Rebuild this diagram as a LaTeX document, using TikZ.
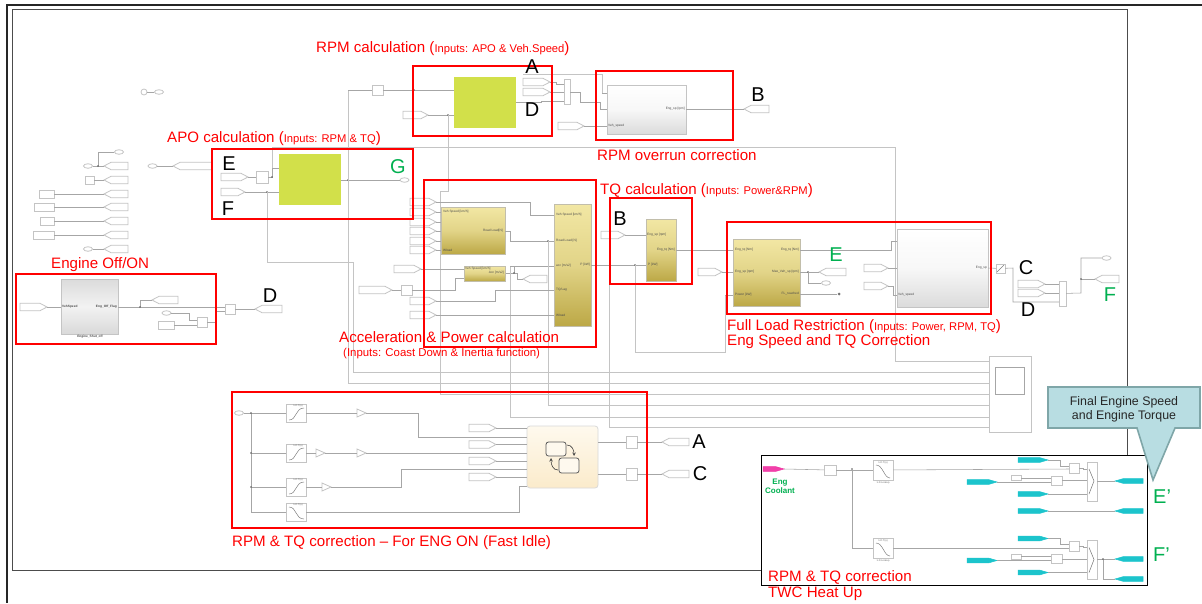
\documentclass[tikz,border=0pt]{standalone}
\usepackage{fontspec}
\setmainfont{Liberation Sans}
\usetikzlibrary{shapes.geometric}
\definecolor{wirec}{HTML}{A6A6A6}
\definecolor{edgec}{HTML}{C4C4C4}
\definecolor{greenblk}{HTML}{D2E04A}
\definecolor{goldtop}{HTML}{F2E7A4}
\definecolor{goldbot}{HTML}{BCA846}
\definecolor{labgreen}{HTML}{00B050}
\definecolor{cyanport}{HTML}{1CC4CC}
\definecolor{callfill}{HTML}{B8DDE2}
\definecolor{calledge}{HTML}{7FA6A8}
\definecolor{charttop}{HTML}{FEF9EE}
\definecolor{chartbot}{HTML}{FBEBCB}
\tikzset{
  wire/.style={draw=wirec,line width=.55pt},
  faint/.style={draw=edgec,line width=.9pt},
  portshape/.style={draw=edgec,line width=.8pt,fill=white},
  cyanshape/.style={draw=cyanport,line width=.5pt,fill=cyanport},
  magshape/.style={draw=magenta!80!white,line width=.5pt,fill=magenta!75!white},
  sbox/.style={draw=edgec,line width=.8pt,fill=white},
  goldb/.style={draw=edgec!80!goldbot,line width=.8pt,top color=goldtop,bottom color=goldbot,middle color=goldtop!70!goldbot},
  greyb/.style={draw=edgec,line width=.8pt,top color=white,bottom color=black!14,middle color=black!3},
  greyc/.style={draw=edgec,line width=.8pt,top color=black!14,bottom color=black!15,middle color=black!5},
  greenb/.style={fill=greenblk,draw=none},
  chartb/.style={rounded corners=3pt,draw=black!15,line width=.8pt,top color=charttop,bottom color=chartbot},
  redbox/.style={draw=red,line width=2pt},
  ovalb/.style={ellipse,draw=edgec,line width=.8pt,fill=white,minimum width=9pt,minimum height=4.5pt,inner sep=0pt},
  jdot/.style={circle,fill=black!65,inner sep=0pt,minimum size=1.8pt},
  redt/.style={text=red,anchor=west,inner sep=0pt,font=\fontsize{15.1}{17}\selectfont},
  redsm/.style={text=red,anchor=west,inner sep=0pt,font=\fontsize{11.4}{13}\selectfont},
  bigblk/.style={text=black,inner sep=0pt,font=\fontsize{20}{22}\selectfont},
  biggrn/.style={text=labgreen,inner sep=0pt,font=\fontsize{20}{22}\selectfont},
  pinl/.style={inner sep=0pt,text=black!70,anchor=west,font=\fontsize{3.2}{4}\selectfont},
  pinr/.style={inner sep=0pt,text=black!70,anchor=east,font=\fontsize{3.2}{4}\selectfont},
}
% small bracketed note with large parentheses, as the reference prints it
\newcommand\inpt[1]{({\fontsize{11.2}{13}\selectfont #1})}
% box: style, name, x1, y1, x2, y2
\newcommand\bx[6]{\node[#1,inner sep=0pt,outer sep=0pt,minimum width={((#5)-(#3))*1pt},minimum height={((#6)-(#4))*1pt}] (#2) at ({((#3)+(#5))/2},{((#4)+(#6))/2}) {};}
% port, tip to the right: style, name, x1, xtip, y
\newcommand\pr[5]{\draw[#1] (#3,#5-3.7) -- (#4-7,#5-3.7) -- (#4,#5) -- (#4-7,#5+3.7) -- (#3,#5+3.7) -- cycle; \coordinate (#2) at (#4,#5);}
% port, tip to the left: style, name, xtip, x2, y
\newcommand\pl[5]{\draw[#1] (#4,#5-3.7) -- (#3+7,#5-3.7) -- (#3,#5) -- (#3+7,#5+3.7) -- (#4,#5+3.7) -- cycle; \coordinate (#2) at (#3,#5);}
% slim cyan ports, same arguments
\newcommand\prc[5]{\draw[#1] (#3,#5-2.3) -- (#4-8,#5-2.3) -- (#4,#5) -- (#4-8,#5+2.3) -- (#3,#5+2.3) -- cycle; \coordinate (#2) at (#4,#5);}
\newcommand\plc[5]{\draw[#1] (#4,#5-2.3) -- (#3+8,#5-2.3) -- (#3,#5) -- (#3+8,#5+2.3) -- (#4,#5+2.3) -- cycle; \coordinate (#2) at (#3,#5);}
% gain triangle: name, x, y
\newcommand\tri[3]{\draw[portshape] (#2,#3-4) -- (#2+9,#3) -- (#2,#3+4) -- cycle; \coordinate (#1-in) at (#2,#3); \coordinate (#1-out) at (#2+9,#3);}
\newcommand\ovl[3]{\node[ovalb] (#1) at (#2,#3) {};}
\newcommand\jn[2]{\node[jdot] at (#1,#2) {};}
\begin{document}
\begin{tikzpicture}[x=1pt,y=-1pt]
\useasboundingbox (0,0) rectangle (1202,603);
\fill[white] (0,0) rectangle (1202,603);
% frames
\draw[black!85,line width=1.2pt] (1202,5) -- (7,5) -- (7,603);
\draw[black!70,line width=.9pt] (12,9.5) rectangle (1127,570);

% ------ blocks
\bx{greenb}{apoB}{279}{154}{341}{205}
\bx{greenb}{rpmB}{454}{77}{516}{128}
\bx{greyc}{engB}{61}{279}{118}{334}
\bx{greyb}{ovrB}{607}{85}{686}{134}
\bx{greyb}{finB}{897}{229}{988}{307}
\bx{goldb}{gA}{441}{207}{505}{254}
\bx{goldb}{gB}{464}{266}{505.5}{281}
\bx{goldb}{gC}{554}{204}{591}{326}
\bx{goldb}{gD}{646}{219}{676}{281}
\bx{goldb}{gE}{733}{239}{800}{306}
\bx{chartb}{chart}{527}{426}{598}{488}
\bx{sbox}{scope}{989}{356}{1031}{432}
\draw[draw=black!35,line width=1pt] (995,367) rectangle (1024,394);

% ------ left terminator group
\draw[draw=edgec,fill=white,line width=.8pt] (144,92) circle (3);
\ovl{o0}{159}{92}
\draw[wire] (147,92) -- (o0);
\pl{portshape}{t1}{104}{128}{166}\ovl{o1}{88}{166}\ovl{o2}{119}{152}
\draw[wire] (o1) -- (t1); \draw[wire] (98,166) -- (98,152) -- (o2); \jn{98}{166}
\pl{portshape}{t2}{104}{128}{180}\bx{sbox}{b2}{85}{176}{94}{184}\draw[wire] (b2) -- (t2);
\pl{portshape}{t3}{104}{128}{194}\bx{sbox}{b3}{39}{190}{54}{198}\draw[wire] (b3) -- (t3);
\pl{portshape}{t4}{104}{128}{207}\bx{sbox}{b4}{34}{203}{54}{211}\draw[wire] (b4) -- (t4);
\pl{portshape}{t5}{104}{128}{221}\bx{sbox}{b5}{40}{217}{54}{225}\draw[wire] (b5) -- (t5);
\pl{portshape}{t6}{104}{128}{235}\bx{sbox}{b6}{33}{231}{54}{239}\draw[wire] (b6) -- (t6);
\pl{portshape}{t7}{104}{128}{249}\ovl{o7}{88}{249}\draw[wire] (o7) -- (t7);

% ------ APO
\ovl{o8}{152.5}{166}\pl{portshape}{t8}{173}{212}{166}\draw[wire] (o8) -- (t8);
\pr{portshape}{pE}{221}{248}{177}\bx{sbox}{muxE}{256}{171}{268}{183}
\pr{portshape}{pF}{221}{245}{192}
\draw[wire] (pE) -- (muxE);
\draw[wire] (muxE) -- (272,177) -- (272,168) -- (apoB.west|-0,168);
\draw[wire] (pF) -- (apoB.west|-0,192);
\ovl{oG}{404.5}{180}
\draw[wire] (apoB.east|-0,180) -- (oG);
\jn{348}{180}\jn{267}{192}\jn{272}{177}
\draw[faint] (272,168) -- (272,147) -- (895,147) -- (895,361) -- (scope.west|-0,361);
\draw[faint] (267,192) -- (267,262) -- (353,262) -- (353,372) -- (scope.west|-0,372);
\draw[faint] (348,90) -- (348,383) -- (scope.west|-0,383);

% ------ Engine off
\pr{portshape}{pEng}{20}{47}{307}
\pl{portshape}{tEng1}{152}{178}{300}
\pl{portshape}{tD}{255}{282}{309}
\bx{sbox}{muxEng}{225}{304}{235}{314}
\ovl{oEng}{166.5}{313}\bx{sbox}{cEng}{158}{321}{174}{329}\bx{sbox}{prodEng}{197}{317}{207}{327}
\draw[wire] (pEng) -- (engB.west|-0,307);
\draw[wire] (engB.east|-0,307) -- (muxEng.west|-0,307);
\draw[wire] (140,307) -- (140,300) -- (tEng1);\jn{140}{307}
\draw[wire] (muxEng) -- (tD);
\draw[wire] (oEng) -- (189,313) -- (189,320) -- (prodEng.west|-0,320);
\draw[wire] (cEng) -- (prodEng.west|-0,325);
\draw[wire] (prodEng) -- (216,322) -- (216,311) -- (muxEng.west|-0,311);
\node[pinl,font=\bfseries\fontsize{3.2}{4}\selectfont] at (62,307) {VehSpeed};
\node[pinr,font=\bfseries\fontsize{3.2}{4}\selectfont] at (117,307) {Eng\_Off\_Flag};
\node[inner sep=0pt,font=\bfseries\fontsize{3.2}{4}\selectfont,text=black!70] at (90,337) {Engine\_Shut\_off};

% ------ RPM calc
\bx{sbox}{mux90}{372}{85}{383}{95}
\draw[wire] (348,90) -- (mux90);\draw[wire] (mux90) -- (rpmB.west|-0,90);\jn{414}{90}
\pr{portshape}{p115}{403}{428}{115}
\draw[wire] (p115) -- (rpmB.west|-0,115);\jn{448}{115}
\pr{portshape}{pA}{523}{550}{82}\pr{portshape}{pD}{523}{550}{92}
\bx{sbox}{mux1}{564}{79}{570}{104}
\draw[wire] (pA) -- (556,82) -- (556,84) -- (mux1.west|-0,84);
\draw[wire] (pD) -- (mux1.west|-0,92);
\draw[wire] (rpmB.east|-0,102) -- (541,102) -- (541,101) -- (mux1.west|-0,101);
\draw[wire] (mux1.east|-0,92) -- (580,92) -- (580,102) -- (600,102) -- (600,109) -- (ovrB.west|-0,109);
\draw[faint] (523,74) -- (602,74) -- (602,93);\draw[wire] (602,93) -- (ovrB.west|-0,93);
\pr{portshape}{p126}{558}{584}{126}
\draw[wire] (p126) -- (ovrB.west|-0,126);
\pl{portshape}{tB}{744}{769}{109}
\draw[wire] (ovrB.east|-0,109) -- (tB);

% ------ Accel & power
\draw[faint] (448,115) -- (448,191) -- (440,191) -- (440,394) -- (scope.west|-0,394);
\pr{portshape}{a1}{410}{436}{202}\pr{portshape}{a2}{410}{436}{212}\pr{portshape}{a3}{410}{436}{222}
\pr{portshape}{a4}{410}{436}{231}\pr{portshape}{a5}{410}{436}{241}\pr{portshape}{a6}{410}{436}{250}
\draw[wire] (a1) -- (530,202) -- (530,215) -- (gC.west|-0,215);
\draw[wire] (a2) -- (gA.west|-0,212);\draw[wire] (a3) -- (gA.west|-0,222);\draw[wire] (a4) -- (gA.west|-0,231);
\draw[wire] (a5) -- (gA.west|-0,241);\draw[wire] (a6) -- (gA.west|-0,250);
\draw[wire] (gA.east|-0,231) -- (510,231) -- (510,241) -- (gC.west|-0,241);\jn{548}{241}
\pr{portshape}{a7}{394}{421}{269}
\draw[wire] (a7) -- (gB.west|-0,269);
\pr{portshape}{a8}{359}{392}{290}\bx{sbox}{mux290}{401}{285}{412}{295}
\draw[wire] (a8) -- (mux290);
\draw[wire] (mux290) -- (455,290) -- (455,278) -- (gB.west|-0,278);
\draw[wire] (gB.east|-0,273) -- (514,273) -- (514,266) -- (gC.west|-0,266);
\pl{portshape}{a9}{523}{547}{279}
\draw[wire] (514,273) -- (517,273) -- (517,279) -- (a9);\jn{514}{273}
\draw[faint] (510,266) -- (510,417) -- (scope.west|-0,417);\draw[wire] (510,266) -- (514,266);
\draw[faint] (548,241) -- (548,405) -- (scope.west|-0,405);
\pr{portshape}{a10}{410}{436}{301}\pr{portshape}{a11}{410}{436}{315}
\draw[wire] (a10) -- (495,301) -- (495,290) -- (gC.west|-0,290);
\draw[wire] (a11) -- (gC.west|-0,315);
\draw[wire] (gC.east|-0,265) -- (gD.west|-0,265);\jn{635}{265}
\draw[faint] (609,265) -- (609,427) -- (scope.west|-0,427);
\draw[faint] (635,265) -- (635,352) -- (725,352) -- (725,295);
\draw[wire] (725,295) -- (gE.west|-0,295);

% ------ TQ and full load
\pr{portshape}{pB}{601}{625}{235}
\draw[wire] (pB) -- (gD.west|-0,235);
\draw[wire] (gD.east|-0,250) -- (gE.west|-0,250);
\pr{portshape}{p272}{698}{722}{272}
\draw[wire] (p272) -- (gE.west|-0,272);
\draw[wire] (gE.east|-0,250) -- (891,250) -- (891,241) -- (finB.west|-0,241);
\pl{portshape}{t272}{819}{846}{272}\ovl{o283}{826}{283}
\draw[wire] (gE.east|-0,272) -- (t272);\jn{808}{272}
\draw[wire] (808,272) -- (808,283) -- (o283);
\node[circle,fill=black!55,inner sep=0pt,minimum size=3pt] (term) at (839,294) {};
\draw[wire] (gE.east|-0,294) -- (term);
\pr{portshape}{f1}{864}{888}{268}\pr{portshape}{f2}{864}{888}{286}
\draw[wire] (f1) -- (finB.west|-0,268);
\draw[wire] (f2) -- (893,286) -- (893,295) -- (finB.west|-0,295);
\bx{sbox}{mux268}{996}{264}{1005}{273}
\draw[black!50,line width=.4pt] (997,272) -- (1004,265);
\draw[wire] (finB.east|-0,268) -- (mux268);
\pr{portshape}{pC}{1018}{1045}{284}\pr{portshape}{pD2}{1018}{1045}{293}
\bx{sbox}{mux2}{1059}{281}{1066}{306}
\draw[wire] (mux268) -- (1013,268) -- (1013,302) -- (mux2.west|-0,302);
\draw[wire] (pC) -- (mux2.west|-0,284);\draw[wire] (pD2) -- (mux2.west|-0,293);
\ovl{o258}{1106.5}{258}\pl{portshape}{tF}{1095}{1119}{279}
\draw[wire] (mux2) -- (1081,293) -- (1081,258) -- (o258);
\draw[wire] (1081,279) -- (tF);\jn{1081}{279}

% ------ Fast idle
\ovl{oIn}{239}{413}
\draw[wire] (oIn) -- (286,413);
\draw[wire] (251,413) -- (251,512) -- (286,512);
\draw[wire] (251,453) -- (286,453);\draw[wire] (251,487) -- (286,487);
\jn{251}{413}\jn{251}{453}\jn{251}{487}
\foreach \nm/\ya/\yb/\cv in {l1/404/422/1,l2/444/462/1,l3/478/496/1,l4/503/521/0}{
  \bx{sbox}{\nm}{286}{\ya}{306}{\yb}
  \ifnum\cv=1
    \draw[black!50,line width=.5pt] (289,\yb-2) .. controls (297,\yb-2) and (295,\ya+4) .. (304,\ya+4);
  \else
    \draw[black!50,line width=.5pt] (289,\ya+4) .. controls (297,\ya+4) and (295,\yb-2) .. (304,\yb-2);
  \fi
  \node[inner sep=0pt,text=black!60,font=\fontsize{2.5}{3}\selectfont] at (298,\ya+2) {1-D T(u)};
}
\tri{g1}{357}{413}\tri{g2a}{316}{453}\tri{g2b}{357}{453}\tri{g3}{322}{487}
\draw[wire] (l1.east|-0,413) -- (g1-in);
\draw[wire] (g1-out) -- (418,413) -- (418,437) -- (chart.west|-0,437);
\draw[wire] (l2.east|-0,453) -- (g2a-in);\draw[wire] (g2a-out) -- (g2b-in);
\draw[wire] (g2b-out) -- (chart.west|-0,453);
\draw[wire] (l3.east|-0,487) -- (g3-in);
\draw[wire] (g3-out) -- (401,487) -- (401,469) -- (chart.west|-0,469);
\draw[wire] (l4.east|-0,512) -- (519,512) -- (519,486) -- (chart.west|-0,486);
\pr{portshape}{c1}{469}{496}{428}\pr{portshape}{c2}{469}{496}{444.5}\pr{portshape}{c3}{469}{496}{461}\pr{portshape}{c4}{469}{496}{477}
\draw[wire] (c1) -- (chart.west|-0,428);\draw[wire] (c2) -- (chart.west|-0,444.5);
\draw[wire] (c3) -- (chart.west|-0,461);\draw[wire] (c4) -- (chart.west|-0,477);
\draw[draw=black!65,fill=charttop,rounded corners=2.5pt,line width=.8pt] (546,442) rectangle (566,456);
\draw[draw=black!65,fill=charttop,rounded corners=2.5pt,line width=.8pt] (559,458) rectangle (579,473);
\draw[black!75,line width=.6pt,-stealth] (567,445) .. controls (572,445) and (574,450) .. (574,456);
\draw[black!75,line width=.6pt,-stealth] (558,470) .. controls (553,470) and (551,465) .. (551,458);
\bx{sbox}{m442}{626}{436}{637}{448}\bx{sbox}{m474}{626}{468}{637}{480}
\pl{portshape}{tA}{662}{689}{442}\pl{portshape}{tC}{662}{689}{474}
\draw[wire] (chart.east|-0,442) -- (m442);\draw[wire] (m442) -- (tA);
\draw[wire] (chart.east|-0,474) -- (m474);\draw[wire] (m474) -- (tC);

% ------ block pin text
\node[pinl] at (443,212) {Veh Speed [km/h]};
\node[pinl] at (443,250) {Wload};
\node[pinr] at (503,231) {Road Load[N]};
\node[pinl] at (465,269) {Veh Speed [km/h]};
\node[pinr] at (504,273) {Acc [m/s2]};
\node[pinl] at (556,215) {Veh Speed [km/h]};
\node[pinl] at (556,241) {Road Load [N]};
\node[pinl] at (556,266) {acc [m/s2]};
\node[pinl] at (556,290) {TQ/Lag};
\node[pinl] at (556,315) {Wload};
\node[pinr] at (590,265) {P [kW]};
\node[pinl] at (647,235) {Eng\_sp [rpm]};
\node[pinr] at (675,250) {Eng\_tq [Nm]};
\node[pinl] at (648,265) {P [kW]};
\node[pinl] at (735,250) {Eng\_tq [Nm]};
\node[pinl] at (735,272) {Eng\_sp [rpm]};
\node[pinl] at (735,295) {Power [kW]};
\node[pinr] at (799,250) {Eng\_tq [Nm]};
\node[pinr] at (799,272) {Max\_Veh\_sp [rpm]};
\node[pinr] at (799,294) {FL\_reached};
\node[pinr] at (685,109) {Eng\_sp [rpm]};
\node[pinl] at (608,126) {Veh\_speed};
\node[pinr] at (987,268) {Eng\_sp};
\node[pinl] at (898,295) {Veh\_speed};

% ------ TWC panel
\bx{sbox}{twc}{761}{455}{1147}{585}
\draw[black,line width=1pt] (twc.north west) rectangle (twc.south east);
\prc{magshape}{pCool}{763}{784}{469}
\bx{sbox}{m469}{824}{465}{836}{475}
\draw[wire] (pCool) -- (m469);
\bx{sbox}{lkT}{873}{460}{893}{480}
\bx{sbox}{lkB}{873}{538}{893}{558}
\draw[wire] (m469) -- (lkT);\jn{852}{469}
\draw[wire] (852,469) -- (852,548) -- (lkB);
\foreach \nm/\ya/\yb in {lkT/460/480,lkB/538/558}{
  \draw[black!50,line width=.5pt] (876,\ya+5) .. controls (883,\ya+5) and (884,\yb-2) .. (890,\yb-2);
  \node[inner sep=0pt,text=black!60,font=\fontsize{2.5}{3}\selectfont] at (883,\ya+2.5) {1-D T(u)};
  \node[inner sep=0pt,text=black!60,font=\fontsize{2.5}{3}\selectfont] at (883,\yb+2.5) {1-D Lookup};
}
\foreach \s/\y in {T/0,B/78.5}{
  \bx{sbox}{sw\s}{1087}{462+\y}{1097}{501+\y}
  \bx{sbox}{pa\s}{1069}{463+\y}{1079}{473+\y}
  \bx{sbox}{pb\s}{1051}{476+\y}{1062}{485+\y}
  \bx{sbox}{k\s}{1011}{475.5+\y}{1021}{480.5+\y}
  \prc{cyanshape}{u\s}{1018}{1048}{460+\y}
  \prc{cyanshape}{v\s}{967}{997}{482+\y}
  \prc{cyanshape}{w\s}{1018}{1048}{494+\y}
  \draw[wire] (u\s) -- (1060,460+\y) -- (1060,466+\y) -- (pa\s.west|-0,466+\y);
  \draw[wire] (k\s) -- (pb\s.west|-0,478+\y);
  \draw[wire] (v\s) -- (pb\s.west|-0,482+\y);
  \draw[wire] (pa\s) -- (1083,468+\y) -- (1083,469+\y) -- (sw\s.west|-0,469+\y);
  \draw[wire] (pb\s) -- (sw\s.west|-0,480.5+\y);
  \draw[wire] (w\s) -- (sw\s.west|-0,494+\y);
  \draw[black!55,line width=.5pt] (1089,469+\y) -- (1094,481+\y) -- (1089,494+\y);
}
\draw[wire] (lkT) -- (paT.west|-0,469);
\draw[wire] (lkB) -- (paB.west|-0,548);
\plc{cyanshape}{ze}{1115}{1143}{481}
\plc{cyanshape}{z2}{1115}{1143}{511}
\prc{cyanshape}{y2}{1018}{1048}{511}
\plc{cyanshape}{zf}{1115}{1143}{559}
\plc{cyanshape}{zg}{1115}{1143}{579}
\draw[wire] (swT.east|-0,481) -- (ze);
\draw[wire] (y2) -- (z2);
\draw[wire] (swB.east|-0,559) -- (zf);
\draw[wire] (1103,559) -- (1103,579) -- (zg);\jn{1103}{559}
\node[inner sep=0pt,align=center,text=labgreen,font=\bfseries\fontsize{8}{9.5}\selectfont] at (780,486.5) {Eng\\Coolant};

% ------ red boxes
\draw[redbox] (413,66) rectangle (552,136);
\draw[redbox] (596,71) rectangle (733,140);
\draw[redbox] (212,149) rectangle (413,219);
\draw[redbox] (16,274) rectangle (216,344);
\draw[redbox] (424,180) rectangle (596,347);
\draw[redbox] (610,198) rectangle (692,284);
\draw[redbox] (727,222) rectangle (991,314);
\draw[redbox] (232,392) rectangle (647,528);

% ------ callout
\draw[draw=calledge,fill=callfill,line width=1.6pt] (1048,387) -- (1200,387) -- (1200,428) -- (1175,428) -- (1153,480) -- (1137,428) -- (1048,428) -- cycle;
\node[align=center,inner sep=0pt,text=black!85,font=\fontsize{12.4}{14}\selectfont] (calltext) at (1124,409) {Final Engine Speed\\and Engine Torque};

% ------ labels
\node[redt] (l1t) at (316,49) {RPM calculation \inpt{Inputs: APO \& Veh.Speed}};
\node[redt] (l2t) at (167,139) {APO calculation \inpt{Inputs: RPM \& TQ}};
\node[redt] (l3t) at (51,265) {Engine Off/ON};
\node[redt] (l4t) at (597,155) {RPM overrun correction};
\node[redt] (l5t) at (600,191) {TQ calculation \inpt{Inputs: Power\&RPM}};
\node[redt] (l6t) at (339,337) {Acceleration \& Power calculation};
\node[redsm] (l7t) at (343,354) {(Inputs: Coast Down \& Inertia function)};
\node[redt] (l8t) at (727,327) {Full Load Restriction \inpt{Inputs: Power, RPM, TQ}};
\node[redt] (l9t) at (727,342) {Eng Speed and TQ Correction};
\node[redt] (l10t) at (232,543) {RPM \& TQ correction -- For ENG ON (Fast Idle)};
\node[redt] (l11t) at (768,577) {RPM \& TQ correction};
\node[redt] (l12t) at (768,594) {TWC Heat Up};

\node[bigblk] (lA1) at (532,67) {A};
\node[bigblk] (lD1) at (532,110) {D};
\node[bigblk] (lB1) at (758,95) {B};
\node[bigblk] (lE1) at (229,164) {E};
\node[bigblk] (lF1) at (228,209) {F};
\node[bigblk] (lD2) at (270,296) {D};
\node[bigblk] (lB2) at (620,219) {B};
\node[bigblk] (lC1) at (1026,268) {C};
\node[bigblk] (lD3) at (1028,310) {D};
\node[bigblk] (lA2) at (699,442) {A};
\node[bigblk] (lC2) at (700,474) {C};
\node[biggrn] (lG) at (398,167) {G};
\node[biggrn] (lE2) at (836,255) {E};
\node[biggrn] (lF2) at (1110,295) {F};
\node[biggrn,anchor=west] (lE3) at (1153,497) {E’};
\node[biggrn,anchor=west] (lF3) at (1153,555) {F’};
\end{tikzpicture}
\end{document}
